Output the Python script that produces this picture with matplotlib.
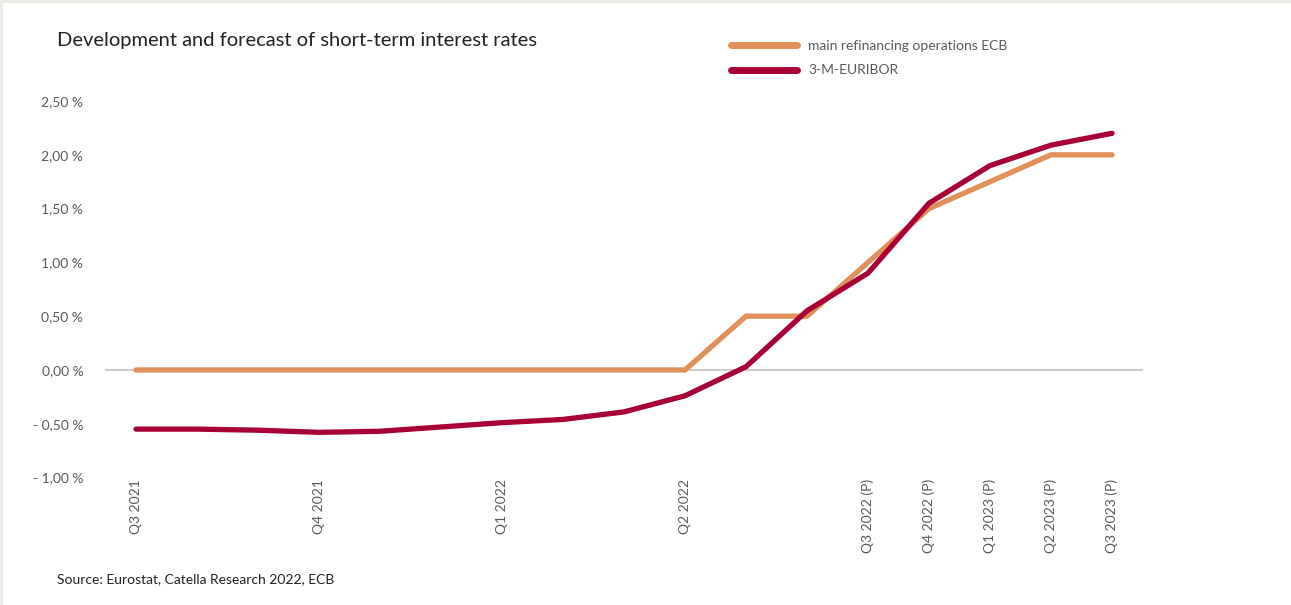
import matplotlib.pyplot as plt

plt.rcParams['font.family'] = ['Lato', 'DejaVu Sans']

# x positions are monthly steps, labels only at quarter points
n_points = 17
tick_pos = [0, 3, 6, 9, 12, 13, 14, 15, 16]
tick_labels = ['Q3 2021', 'Q4 2021', 'Q1 2022', 'Q2 2022', 'Q3 2022 (P)',
               'Q4 2022 (P)', 'Q1 2023 (P)', 'Q2 2023 (P)', 'Q3 2023 (P)']

mro_ecb = [0.0, 0.0, 0.0, 0.0, 0.0, 0.0, 0.0, 0.0, 0.0, 0.0,
           0.50, 0.50, 1.00, 1.50, 1.75, 2.00, 2.00]
euribor_3m = [-0.55, -0.55, -0.56, -0.58, -0.57, -0.53, -0.49, -0.46, -0.39, -0.24,
              0.03, 0.55, 0.90, 1.55, 1.90, 2.09, 2.20]

y_ticks = [-1.0, -0.5, 0.0, 0.5, 1.0, 1.5, 2.0, 2.5]
y_labels = ['- 1,00 %', '- 0,50 %', '0,00 %', '0,50 %', '1,00 %',
            '1,50 %', '2,00 %', '2,50 %']

orange = '#E09058'
red = '#A80034'
grey_text = '#5a5a5a'

fig = plt.figure(figsize=(12.91, 6.05), dpi=100)
ax = fig.add_axes([0.0817, 0.2107, 0.8033, 0.6223])

x = range(n_points)
ax.axhline(0, color='#cccccc', lw=1.5, zorder=1)
ax.plot(x, mro_ecb, color=orange, lw=3.8, solid_capstyle='round',
        solid_joinstyle='miter', label='main refinancing operations ECB', zorder=2)
ax.plot(x, euribor_3m, color=red, lw=3.8, solid_capstyle='round',
        solid_joinstyle='miter', label='3-M-EURIBOR', zorder=3)

ax.set_xlim(-0.5, 16.5)
ax.set_ylim(-1.0, 2.5)
ax.set_yticks(y_ticks, y_labels)
ax.set_xticks(tick_pos, tick_labels, rotation=90)
ax.tick_params(length=0, labelsize=10, labelcolor=grey_text)
ax.tick_params(axis='y', pad=16)
ax.tick_params(axis='x', pad=1)
for s in ax.spines.values():
    s.set_visible(False)

leg = fig.legend(loc='upper left', bbox_to_anchor=(0.566, 0.934), frameon=False,
                 fontsize=10, handlelength=4.8, handletextpad=0.8,
                 labelspacing=0.9, borderpad=0, borderaxespad=0)
for line in leg.get_lines():
    line.set_linewidth(5)
for t in leg.get_texts():
    t.set_color(grey_text)

fig.text(0.044, 0.933, 'Development and forecast of short-term interest rates',
         fontsize=14.5, color='#222222', va='center')
fig.text(0.044, 0.042, 'Source: Eurostat, Catella Research 2022, ECB',
         fontsize=10, color='#222222', va='center')

# thin light frame along the top and left edge
fig.add_artist(plt.Line2D([0, 1], [0.998, 0.998], color='#ebebe6', lw=3, transform=fig.transFigure))
fig.add_artist(plt.Line2D([0.001, 0.001], [0, 1], color='#ebebe6', lw=3, transform=fig.transFigure))

fig.savefig('out.png', dpi=100)
